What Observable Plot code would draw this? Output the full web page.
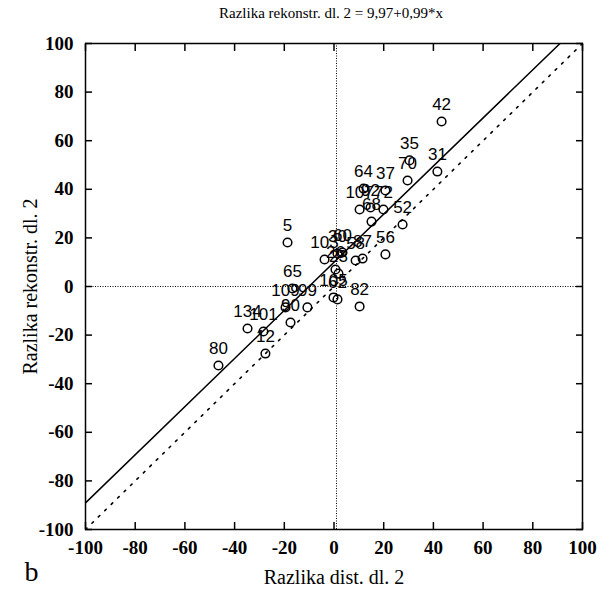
<!DOCTYPE html>
<html>
<head>
<meta charset="utf-8">
<script src="https://cdn.jsdelivr.net/npm/d3@7"></script>
<script src="https://cdn.jsdelivr.net/npm/@observablehq/plot@0.6"></script>
<style>
  html, body { margin: 0; padding: 0; background: #fff; }
  #title { height: 28px; width: 610px; font-family: "Liberation Serif", serif; font-size: 15px; color: #000; position: relative; }
  #title span { position: absolute; left: 0; width: 662px; text-align: center; top: 5px; }
</style>
</head>
<body>
<div id="title"><span>Razlika rekonstr. dl. 2 = 9,97+0,99*x</span></div>
<div id="chart"></div>
<script>
// Point labels (case numbers), x = Razlika dist. dl. 2, y = Razlika rekonstr. dl. 2
const labels = ["42","35","70","31","64","37","107","72","92","68","52","56","5","103","30","60","58","87","26","23","105","62","82","65","99","109","90","134","101","12","80"];
const xVals = [43.3,30.4,29.6,41.6,11.9,20.7,10.3,19.9,14.7,15.1,27.6,20.7,-18.7,-3.8,1.4,3.4,8.7,11.5,0.6,1.8,-0.2,1.4,10.3,-16.7,-10.7,-19.5,-17.5,-34.8,-28.4,-27.6,-46.5];
const yVals = [67.9,51.9,43.6,47.3,40.3,39.5,31.7,31.7,32.5,26.7,25.5,13.2,18.1,11.1,13.6,14.0,10.7,11.5,7.0,5.3,-4.5,-5.3,-8.2,-0.8,-8.6,-8.6,-14.8,-17.3,-18.5,-27.6,-32.5];

// regression: y = 9.97 + 0.99 * x ; reference line y = x
const intercept = 9.97;
const slope = 0.99;
const lineX = [-100, 100];
const tickValues = [-100,-80,-60,-40,-20,0,20,40,60,80,100];
const meanX = 1.0;
const meanY = 0;

const points = labels.map((l, i) => ({label: l, x: xVals[i], y: yVals[i]}));
const regLine = lineX.map(x => ({x, y: intercept + slope * x}));
const idLine = lineX.map(x => ({x, y: x}));

const fmt = d => String(d);  // plain hyphen-minus like the reference
const tickFont = {fontFamily: "Liberation Serif", fontWeight: "bold", fontSize: 19};

const chart = Plot.plot({
  width: 610,
  height: 568,
  marginTop: 15,
  marginBottom: 67,
  marginLeft: 85,
  marginRight: 28,
  style: {background: "#fff", color: "#000"},
  x: {domain: [-100, 100]},
  y: {domain: [-100, 100]},
  marks: [
    Plot.ruleX([meanX], {stroke: "#000", strokeWidth: 1, strokeDasharray: "1,1.5"}),
    Plot.ruleY([meanY], {stroke: "#000", strokeWidth: 1, strokeDasharray: "1,1.5"}),
    Plot.line(idLine, {x: "x", y: "y", stroke: "#000", strokeWidth: 1.6, strokeDasharray: "2,7", clip: true}),
    Plot.line(regLine, {x: "x", y: "y", stroke: "#000", strokeWidth: 1.5, clip: true}),
    Plot.dot(points, {x: "x", y: "y", r: 4.3, stroke: "#000", strokeWidth: 1.5, fill: "none"}),
    Plot.text(points, {x: "x", y: "y", text: "label", dy: -17, fontFamily: "Liberation Sans", fontSize: 17, fill: "#000"}),
    // inward ticks on all sides
    Plot.axisX({anchor: "bottom", ticks: tickValues, tickSize: -7, tickFormat: () => "", label: null, strokeWidth: 1.5}),
    Plot.axisX({anchor: "top", ticks: tickValues, tickSize: -7, tickFormat: () => "", label: null, strokeWidth: 1.5}),
    Plot.axisY({anchor: "left", ticks: tickValues, tickSize: -7, tickFormat: () => "", label: null, strokeWidth: 1.5}),
    Plot.axisY({anchor: "right", ticks: tickValues, tickSize: -7, tickFormat: () => "", label: null, strokeWidth: 1.5}),
    // tick labels and axis titles
    Plot.axisX({anchor: "bottom", ticks: tickValues, tickSize: 0, tickPadding: 11, tickFormat: fmt, ...tickFont,
      label: "Razlika dist. dl. 2", labelAnchor: "center", labelArrow: "none", labelOffset: 54}),
    Plot.axisY({anchor: "left", ticks: tickValues, tickSize: 0, tickPadding: 12, tickFormat: fmt, ...tickFont,
      label: "Razlika rekonstr. dl. 2", labelAnchor: "center", labelArrow: "none", labelOffset: 63}),
    Plot.frame({stroke: "#000", strokeWidth: 1.5}),
    Plot.text(["b"], {frameAnchor: "bottom-left", dx: -61, dy: 51, fontFamily: "Liberation Serif", fontSize: 28, fill: "#000"})
  ]
});

// axis titles: regular serif, larger
chart.querySelectorAll("g[aria-label='x-axis label'] text, g[aria-label='y-axis label'] text").forEach(t => {
  t.setAttribute("font-family", "Liberation Serif");
  t.setAttribute("font-size", "20");
  t.setAttribute("font-weight", "normal");
});
document.getElementById("chart").appendChild(chart);
</script>
</body>
</html>
